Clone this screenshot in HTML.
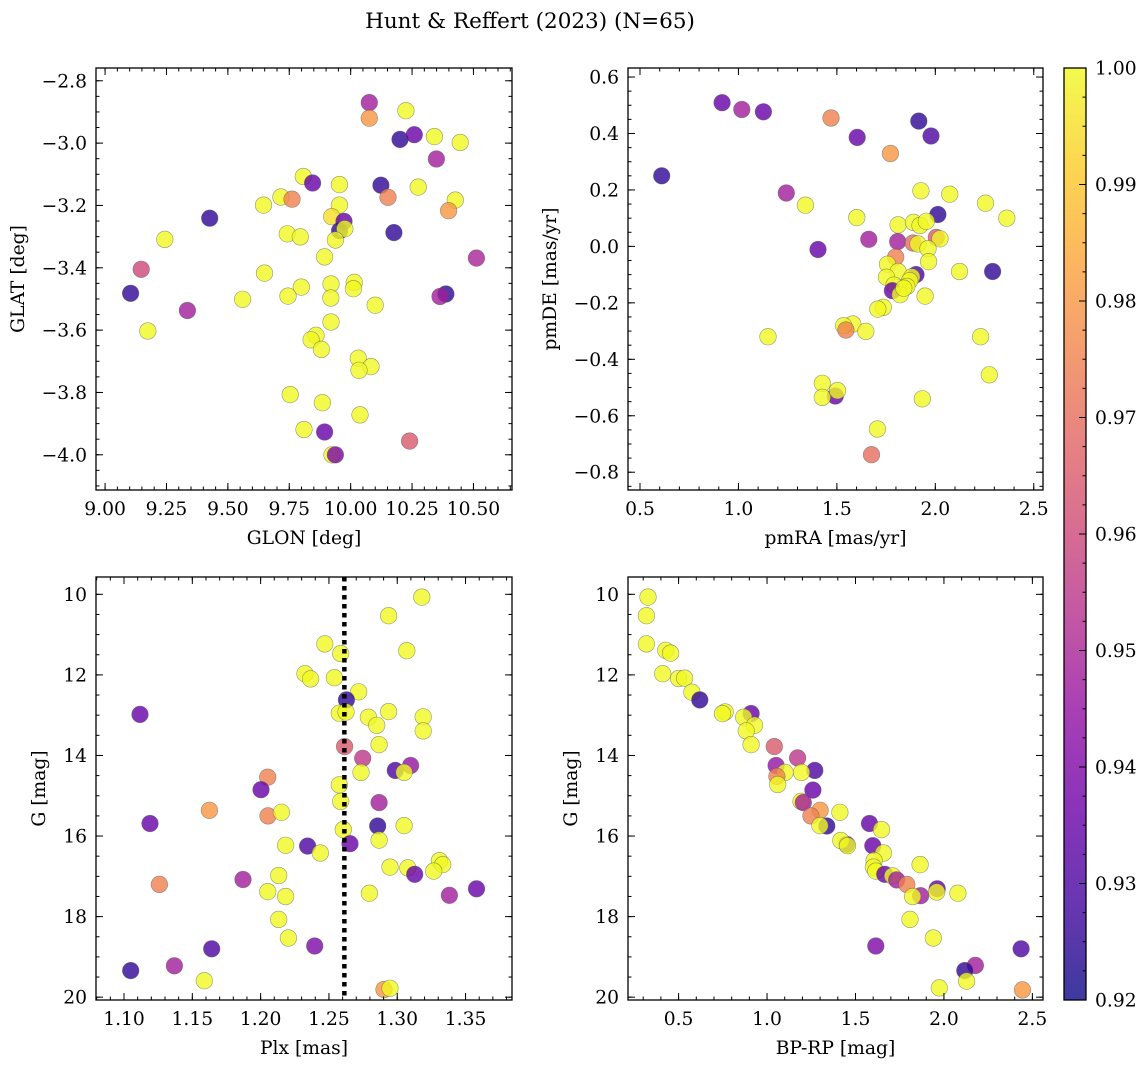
<!DOCTYPE html>
<html><head><meta charset="utf-8"><style>
body{margin:0;background:#fff;}
svg{display:block;font-family:"DejaVu Serif","Liberation Serif",serif;}
</style></head><body>
<svg id="fig" width="1148" height="1067" viewBox="0 0 1148 1067" xmlns="http://www.w3.org/2000/svg">
<text x="530" y="28" font-size="21.5" text-anchor="middle">Hunt &amp; Reffert (2023) (N=65)</text>
</svg>
<script>
// Panel 1: GLON vs GLAT
const glon=[10.076,10.076,10.225,10.201,10.259,10.341,10.446,10.349,9.807,9.845,9.954,10.123,10.275,9.716,9.761,10.152,10.426,10.399,9.645,9.954,9.426,9.923,9.973,9.955,9.976,9.938,10.176,9.243,9.742,9.795,9.894,10.512,9.147,9.649,9.920,10.015,10.011,9.799,9.104,10.388,10.364,9.745,9.919,9.560,10.100,9.335,9.174,9.920,9.859,9.839,9.881,10.031,10.083,10.034,9.754,9.885,10.038,9.810,9.894,10.240,9.924,9.938];
const glat=[-2.870,-2.920,-2.896,-2.988,-2.973,-2.979,-2.998,-3.051,-3.107,-3.128,-3.133,-3.135,-3.141,-3.173,-3.180,-3.174,-3.183,-3.217,-3.199,-3.199,-3.241,-3.236,-3.251,-3.281,-3.275,-3.311,-3.287,-3.309,-3.291,-3.301,-3.365,-3.369,-3.405,-3.417,-3.452,-3.447,-3.467,-3.462,-3.482,-3.484,-3.492,-3.491,-3.497,-3.501,-3.520,-3.537,-3.603,-3.574,-3.617,-3.631,-3.662,-3.690,-3.717,-3.729,-3.807,-3.833,-3.872,-3.919,-3.927,-3.956,-4.000,-4.000];
const prob1=[0.948,0.98,1,0.925,0.935,1,1,0.948,1,0.935,1,0.925,1,1,0.975,0.975,1,0.98,1,1,0.925,0.995,0.935,0.925,1,1,0.925,1,1,1,1,0.95,0.96,1,1,1,1,1,0.925,0.925,0.948,1,1,1,1,0.948,1,1,1,1,1,1,1,1,1,1,1,1,0.935,0.965,1,0.94];
// Panel 2: pmRA vs pmDE
const pmra=[0.610,0.917,1.017,1.127,1.470,1.603,1.916,1.978,1.772,1.243,1.340,1.927,2.073,2.255,2.363,1.601,2.013,1.811,1.889,1.922,1.954,1.662,1.809,1.887,1.912,2.005,2.024,1.404,1.963,1.799,1.966,1.757,1.811,2.123,2.291,1.902,1.880,1.752,1.870,1.790,1.855,1.782,1.821,1.840,1.948,1.736,1.708,1.581,1.534,1.546,1.647,1.150,2.230,2.274,1.426,1.492,1.503,1.426,1.934,1.706,1.676];
const pmde=[0.250,0.509,0.485,0.477,0.455,0.386,0.444,0.391,0.329,0.189,0.146,0.197,0.185,0.153,0.100,0.102,0.113,0.076,0.085,0.074,0.089,0.025,0.017,0.012,0.009,0.032,0.027,-0.011,-0.008,-0.038,-0.054,-0.063,-0.089,-0.089,-0.089,-0.100,-0.108,-0.109,-0.121,-0.137,-0.142,-0.157,-0.171,-0.148,-0.176,-0.216,-0.222,-0.275,-0.281,-0.296,-0.301,-0.320,-0.320,-0.455,-0.485,-0.530,-0.511,-0.535,-0.540,-0.647,-0.738];
const prob2=[0.925,0.935,0.948,0.935,0.975,0.935,0.925,0.93,0.98,0.948,1,1,1,1,1,1,0.925,1,1,1,1,0.948,0.948,0.97,1,0.965,1,0.935,1,0.975,1,1,1,1,0.925,0.93,1,1,1,1,1,0.935,1,1,1,1,1,1,1,0.975,1,1,1,1,1,0.935,1,1,1,1,0.97];
// Panel 3: Plx vs G
const plx=[1.318,1.2937,1.307,1.247,1.2586,1.2325,1.2366,1.254,1.2718,1.2628,1.1117,1.2576,1.2625,1.2789,1.2937,1.285,1.319,1.319,1.2867,1.2615,1.2747,1.2986,1.3098,1.305,1.2735,1.2052,1.2003,1.2576,1.2586,1.2867,1.1625,1.2054,1.2152,1.119,1.2857,1.305,1.2605,1.2654,1.2867,1.2183,1.2344,1.2437,1.3309,1.3333,1.3267,1.2947,1.3077,1.3128,1.2132,1.1259,1.1871,1.2052,1.2183,1.2796,1.3382,1.358,1.2132,1.2203,1.1642,1.2396,1.1369,1.1049,1.1588,1.2903,1.2947];
const gmag3=[10.07,10.53,11.40,11.23,11.47,11.97,12.10,12.07,12.42,12.62,12.98,12.95,12.92,13.05,12.91,13.25,13.04,13.39,13.73,13.78,14.07,14.37,14.25,14.42,14.42,14.54,14.85,14.73,15.14,15.17,15.36,15.50,15.41,15.69,15.75,15.74,15.84,16.19,16.10,16.23,16.25,16.42,16.61,16.71,16.87,16.77,16.79,16.95,16.98,17.20,17.08,17.38,17.50,17.42,17.47,17.31,18.07,18.53,18.80,18.73,19.22,19.34,19.59,19.81,19.78];
const prob3=[1,1,1,1,1,1,1,1,1,0.925,0.935,1,1,1,1,1,1,1,1,0.965,0.955,0.93,0.945,1,1,0.975,0.935,1,1,0.948,0.98,0.975,1,0.935,0.925,1,1,0.935,1,1,0.93,1,1,1,1,1,1,0.935,1,0.975,0.948,1,1,1,0.948,0.935,1,1,0.93,0.94,0.948,0.925,1,0.98,1];
const plxMedian=[1.2613];
// Panel 4: BP-RP vs G
const bprp=[0.327,0.318,0.318,0.427,0.455,0.41,0.5,0.534,0.575,0.62,0.763,0.748,0.91,0.868,0.929,0.882,0.91,1.041,1.173,1.27,1.051,1.102,1.195,1.056,1.259,1.06,1.192,1.205,1.30,1.248,1.412,1.579,1.338,1.647,1.299,1.598,1.451,1.417,1.455,1.658,1.865,1.605,1.601,1.615,1.665,1.71,1.733,1.79,1.962,1.959,1.868,1.823,2.079,1.808,1.94,2.436,1.615,2.178,2.118,2.128,1.974,2.444];
const gmag4=[10.07,10.53,11.23,11.39,11.46,11.97,12.09,12.08,12.43,12.62,12.92,12.96,12.96,13.05,13.25,13.39,13.73,13.78,14.06,14.37,14.25,14.42,14.42,14.52,14.86,14.72,15.14,15.17,15.36,15.50,15.41,15.69,15.75,15.84,15.74,16.24,16.21,16.11,16.24,16.42,16.71,16.61,16.77,16.87,16.95,16.99,17.09,17.20,17.31,17.39,17.48,17.50,17.42,18.07,18.53,18.80,18.73,19.21,19.34,19.60,19.77,19.82];
const prob4=[1,1,1,1,1,1,1,1,1,0.925,1,1,0.935,1,1,1,1,0.965,0.955,0.93,0.945,1,1,0.975,0.935,1,1,0.948,0.98,0.975,1,0.935,0.925,1,1,0.935,0.93,1,1,1,1,1,1,1,0.935,1,0.948,0.975,0.935,1,0.948,1,1,1,1,0.93,0.94,0.948,0.925,1,1,0.98];
// Colorbar
const cbTicks=[0.92,0.93,0.94,0.95,0.96,0.97,0.98,0.99,1.00];

const NS="http://www.w3.org/2000/svg";
const svg=document.getElementById('fig');
const FS=18.7;
const plasma=[[13,8,135],[65,4,157],[106,0,168],[143,13,164],[177,42,144],[204,71,120],[225,100,98],[242,132,75],[252,166,54],[252,206,37],[240,249,33]];
const CMIN=0.92,CMAX=1.0;
function cmap(v){let t=(v-CMIN)/(CMAX-CMIN);t=Math.max(0,Math.min(1,t))*10;const i=Math.min(9,Math.floor(t));const f=t-i;const a=plasma[i],b=plasma[i+1];
return 'rgb('+[0,1,2].map(k=>Math.round(a[k]+(b[k]-a[k])*f)).join(',')+')';}
function el(tag,attrs,parent){const e=document.createElementNS(NS,tag);for(const k in attrs)e.setAttribute(k,attrs[k]);(parent||svg).appendChild(e);return e;}
function fmt(v,d){const s=v.toFixed(d);return s.startsWith('-')?'\u2212'+s.slice(1):s;}

function panel(cfg,xs,ys,cs){
  const g=el('g',{});
  
  
  const L=cfg.L,T=cfg.T,W=cfg.W,H=cfg.H;
  const sx=v=>L+(v-cfg.xmin)/(cfg.xmax-cfg.xmin)*W;
  const sy=cfg.yinv?(v=>T+(v-cfg.ymin)/(cfg.ymax-cfg.ymin)*H):(v=>T+(cfg.ymax-v)/(cfg.ymax-cfg.ymin)*H);
  const clip='clip-'+cfg.name;
  const cp=el('clipPath',{id:clip},g);el('rect',{x:L,y:T,width:W,height:H},cp);
  const pts=el('g',{'clip-path':'url(#'+clip+')'},g);
  for(let i=0;i<xs.length;i++){
    const c=el('circle',{cx:sx(xs[i]).toFixed(1),cy:sy(ys[i]).toFixed(1),r:8.3,fill:cmap(cs[i]),'fill-opacity':0.8,stroke:'#555','stroke-opacity':0.6,'stroke-width':0.6},pts);
    
    
  }
  if(cfg.vline){
    const ln=el('line',{x1:sx(cfg.vline[0]),x2:sx(cfg.vline[0]),y1:T,y2:T+H,stroke:'#000','stroke-width':4.5,'stroke-dasharray':'4.5 4.5'},g);
    
    
  }
  const tk=el('g',{stroke:'#000','stroke-width':1},g);
  function ticks(min,max,step,len,axis){
    const n0=Math.ceil(min/step-1e-9),n1=Math.floor(max/step+1e-9);
    for(let n=n0;n<=n1;n++){const v=n*step;
      if(axis==='x'){const x=sx(v);el('line',{x1:x,x2:x,y1:T+H,y2:T+H-len},tk);el('line',{x1:x,x2:x,y1:T,y2:T+len},tk);}
      else{const y=sy(v);el('line',{x1:L,x2:L+len,y1:y,y2:y},tk);el('line',{x1:L+W,x2:L+W-len,y1:y,y2:y},tk);}
    }
  }
  ticks(cfg.xmin,cfg.xmax,cfg.xminor,3.5,'x');ticks(cfg.xmin,cfg.xmax,cfg.xmajor,7,'x');
  ticks(cfg.ymin,cfg.ymax,cfg.yminor,3.5,'y');ticks(cfg.ymin,cfg.ymax,cfg.ymajor,7,'y');
  const fr=el('rect',{x:L,y:T,width:W,height:H,fill:'none',stroke:'#000','stroke-width':1.3},g);
  
  
  let n0=Math.ceil(cfg.xmin/cfg.xmajor-1e-9),n1=Math.floor(cfg.xmax/cfg.xmajor+1e-9);
  for(let n=n0;n<=n1;n++){const v=n*cfg.xmajor;
    const t=el('text',{x:sx(v),y:T+H+25,'font-size':FS,'text-anchor':'middle'},g);t.textContent=fmt(v,cfg.xdec);
    
    }
  n0=Math.ceil(cfg.ymin/cfg.ymajor-1e-9);n1=Math.floor(cfg.ymax/cfg.ymajor+1e-9);
  for(let n=n0;n<=n1;n++){const v=n*cfg.ymajor;
    const t=el('text',{x:L-9,y:sy(v)+6.5,'font-size':FS,'text-anchor':'end'},g);t.textContent=fmt(v,cfg.ydec);
    
    }
  const xl=el('text',{x:L+W/2,y:T+H+54,'font-size':FS,'text-anchor':'middle'},g);xl.textContent=cfg.xlabel;
  
  
  const yx=cfg.ylx,yy=T+H/2;
  const yl=el('text',{x:yx,y:yy,'font-size':FS,'text-anchor':'middle',transform:'rotate(-90 '+yx+' '+yy+')'},g);yl.textContent=cfg.ylabel;
  
  
}

panel({name:'glon-glat-panel',L:96,T:68,W:416,H:422,xmin:8.963,xmax:10.657,ymin:-4.113,ymax:-2.759,xmajor:0.25,xminor:0.05,ymajor:0.2,yminor:0.05,xdec:2,ydec:1,xlabel:'GLON [deg]',ylabel:'GLAT [deg]',ylx:24},glon,glat,prob1);
panel({name:'proper-motion-panel',L:628,T:68,W:415,H:422,xmin:0.439,xmax:2.547,ymin:-0.863,ymax:0.632,xmajor:0.5,xminor:0.1,ymajor:0.2,yminor:0.05,xdec:1,ydec:1,xlabel:'pmRA [mas/yr]',ylabel:'pmDE [mas/yr]',ylx:556},pmra,pmde,prob2);
panel({name:'parallax-magnitude-panel',L:96,T:577,W:416,H:423,xmin:1.0795,xmax:1.384,ymin:9.57,ymax:20.07,yinv:true,xmajor:0.05,xminor:0.01,ymajor:2,yminor:0.5,xdec:2,ydec:0,xlabel:'Plx [mas]',ylabel:'G [mag]',ylx:45,vline:plxMedian},plx,gmag3,prob3);
panel({name:'cmd-panel',L:628,T:577,W:415,H:423,xmin:0.214,xmax:2.56,ymin:9.57,ymax:20.07,yinv:true,xmajor:0.5,xminor:0.1,ymajor:2,yminor:0.5,xdec:1,ydec:0,xlabel:'BP-RP [mag]',ylabel:'G [mag]',ylx:577},bprp,gmag4,prob4);

(function(){
  const L=1064,T=68,W=22,H=932;
  const g=el('g',{});
  
  
  const defs=el('defs',{},g);
  const lg=el('linearGradient',{id:'cbgrad',x1:0,y1:1,x2:0,y2:0},defs);
  plasma.forEach((c,i)=>el('stop',{offset:(i/10).toFixed(2),'stop-color':'rgb('+c.join(',')+')','stop-opacity':0.8},lg));
  el('rect',{x:L,y:T,width:W,height:H,fill:'url(#cbgrad)'},g);
  el('rect',{x:L,y:T,width:W,height:H,fill:'none',stroke:'#000','stroke-width':1.3},g);
  const sy=v=>T+(CMAX-v)/(CMAX-CMIN)*H;
  for(let v=CMIN;v<=CMAX+1e-9;v+=0.0025){el('line',{x1:L+W,x2:L+W-3.5,y1:sy(v),y2:sy(v),stroke:'#000'},g);}
  cbTicks.forEach(v=>{
    el('line',{x1:L+W,x2:L+W-7,y1:sy(v),y2:sy(v),stroke:'#000'},g);
    const t=el('text',{x:L+W+9,y:sy(v)+6.5,'font-size':FS},g);t.textContent=v.toFixed(2);
    
    
  });
})();
</script>
</body></html>
